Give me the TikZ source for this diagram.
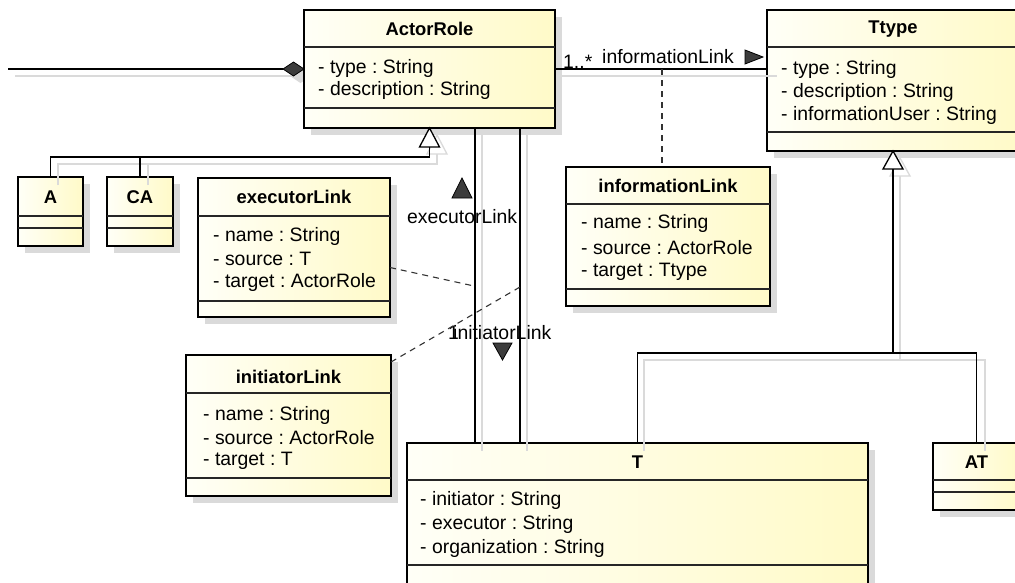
\documentclass[tikz,border=0pt]{standalone}
\usepackage{fontspec}
\setmainfont{Liberation Sans}
\frenchspacing
\definecolor{boxL}{RGB}{255,255,247}
\definecolor{boxR}{RGB}{255,250,200}
\definecolor{shad}{RGB}{218,218,218}
\definecolor{headfill}{RGB}{60,60,60}
\tikzset{
  box/.style={draw=black, line width=2.4pt, left color=boxL, right color=boxR, inner sep=0pt, outer sep=0pt, anchor=north west},
  divider/.style={draw=black!85, line width=1.1pt},
  title/.style={font=\bfseries\fontsize{18.4}{22}\selectfont, inner sep=0pt},
  attr/.style={font=\fontsize{19.4}{22}\selectfont, inner sep=0pt, anchor=west},
  conn/.style={draw=black, line width=1.3pt},
  sconn/.style={draw=shad, line width=1.3pt},
  lbl/.style={font=\fontsize{19.4}{22}\selectfont, inner sep=0pt},
  dashconn/.style={draw=black!80, line width=1.1pt, dash pattern=on 6pt off 5pt},
  arrowtri/.style={fill=headfill, draw=black, line width=0.8pt, line join=miter},
  gentri/.style={fill=white, draw=black, line width=1.3pt, line join=miter},
}
\newcommand\umlbox[7]{%
  \fill[shad] (#2+7,#3+7) rectangle (#4+7,#5+7);
  \node[box, minimum width={(#4-#2)*1pt}, minimum height={(#5-#3)*1pt}] (#1) at (#2,#3) {};
  \draw[divider] (#2,#6) -- (#4,#6);
  \draw[divider] (#2,#7) -- (#4,#7);
}
\begin{document}
\begin{tikzpicture}[x=1pt,y=-1pt]
\useasboundingbox (0,0) rectangle (1015,582);
\clip (0,0) rectangle (1015,582);
\fill[white] (0,0) rectangle (1015,582);

% composition shadow (under boxes)
\draw[sconn, line width=1.8pt] (15,76) -- (291,76);
\fill[shad] (290,76) -- (300.5,69) -- (311,76) -- (300.5,83) -- cycle;

% classes
\umlbox{actorrole}{304}{10}{555}{128}{47}{108}
\umlbox{ttype}{767}{10}{1019}{151}{47}{132}
\umlbox{aclass}{18}{177}{83}{246}{216}{228}
\umlbox{caclass}{107}{177}{173}{246}{216}{228}
\umlbox{execlink}{198}{178}{390}{317}{216}{301}
\umlbox{infolink}{566}{167}{770}{306}{204}{289}
\umlbox{initlink}{186}{355}{391}{496}{393}{478}
\umlbox{tclass}{407}{443}{868}{600}{480}{565}
\umlbox{atclass}{933}{443}{1020}{510}{480}{492}

% connector shadows
\draw[sconn] (562,76) -- (777,76);
\draw[sconn] (58,185) -- (58,164) -- (437,164) -- (437,154);
\draw[sconn] (148,185) -- (148,164);
\draw[sconn, line join=miter] (437,135) -- (427,154) -- (447,154) -- cycle;
\draw[sconn] (482,135) -- (482,451);
\draw[sconn] (527,135) -- (527,451);
\draw[sconn, line join=miter] (900,158) -- (890,176) -- (910,176) -- cycle;
\draw[sconn] (900,176) -- (900,360);
\draw[sconn] (644,451) -- (644,360) -- (985,360) -- (985,451);

% composition from the left
\coordinate (leftend) at (8,69);
\coordinate (compw) at (283,69);
\draw[conn, line width=1.8pt] (leftend) -- (compw);
\draw[arrowtri] (compw) -- (293.5,62) -- (actorrole.west |- compw) -- (293.5,76) -- cycle;

% association ActorRole -- Ttype
\draw[conn] (actorrole.east) -- (actorrole.east -| ttype.west);
\node[lbl, anchor=base west] (mult1) at (563,68) {1..*};
\node[lbl, anchor=base west] (assoclbl) at (602,63) {informationLink};
\draw[arrowtri] (745,50) -- (763,57) -- (745,64) -- cycle;
\coordinate (ilpt) at (662,69);
\draw[dashconn] (ilpt) -- (ilpt |- infolink.north);

% generalization A, CA -> ActorRole
\draw[gentri] (actorrole.south) -- ++(-10,19) -- ++(20,0) -- cycle;
\coordinate (ajoin) at (429.5,157);
\draw[conn] ([yshift=-19pt]actorrole.south) -- (ajoin);
\draw[conn] (ajoin) -| (aclass.north);
\draw[conn] (ajoin) -| (caclass.north);

% executorLink / initiatorLink associations
\coordinate (xe) at (475,0);
\coordinate (xi) at (520,0);
\draw[conn] (actorrole.south -| xe) -- (tclass.north -| xe);
\draw[conn] (actorrole.south -| xi) -- (tclass.north -| xi);
\draw[arrowtri] (452,198) -- (462,178) -- (472,198) -- cycle;
\node[lbl, anchor=west] (execlbl) at (407,217) {executorLink};
\node[lbl, anchor=west] (onelbl) at (448,333) {1};
\node[lbl, anchor=west] (initlbl) at (453,333) {initiatorLink};
\draw[arrowtri] (493,343) -- (512,343) -- (502.5,360) -- cycle;
\coordinate (exdash) at (474,286);
\coordinate (indash) at (520,287);
\draw[dashconn] ([yshift=-20pt]execlink.east) -- (exdash);
\draw[dashconn] ([yshift=-7pt]initlink.north east) -- (indash);

% generalization T, AT -> Ttype
\draw[gentri] (ttype.south) -- ++(-10,18) -- ++(20,0) -- cycle;
\coordinate (tjoin) at (893,353);
\draw[conn] ([yshift=-18pt]ttype.south) -- (tjoin);
\draw[conn] (tjoin) -| (tclass.north);
\draw[conn] (tjoin) -| (atclass.north);

% texts
\node[title] (ar-t) at (429.5,29) {ActorRole};
\node[attr] (ar-1) at (318,68) {- type : String};
\node[attr] (ar-2) at (318,90) {- description : String};

\node[title] (tt-t) at (893,29) {Ttype};
\node[attr] (tt-1) at (781,69) {- type : String};
\node[attr] (tt-2) at (781,92) {- description : String};
\node[attr] (tt-3) at (781,115) {- informationUser : String};

\node[title] (a-t) at (50.5,197) {A};
\node[title] (ca-t) at (140,197) {CA};

\node[title] (el-t) at (294,197) {executorLink};
\node[attr] (el-1) at (213,236) {- name : String};
\node[attr] (el-2) at (213,259) {- source : T};
\node[attr] (el-3) at (213,282) {- target : ActorRole};

\node[title] (il-t) at (668,186) {informationLink};
\node[attr] (il-1) at (581,223) {- name : String};
\node[attr] (il-2) at (581,248) {- source : ActorRole};
\node[attr] (il-3) at (581,272) {- target : Ttype};

\node[title] (nl-t) at (288.5,377) {initiatorLink};
\node[attr] (nl-1) at (203,415) {- name : String};
\node[attr] (nl-2) at (203,438) {- source : ActorRole};
\node[attr] (nl-3) at (203,461) {- target : T};

\node[title] (t-t) at (637.5,462) {T};
\node[attr] (t-1) at (420,500) {- initiator : String};
\node[attr] (t-2) at (420,524) {- executor : String};
\node[attr] (t-3) at (420,548) {- organization : String};

\node[title] (at-t) at (976.5,462) {AT};
\end{tikzpicture}
\end{document}
